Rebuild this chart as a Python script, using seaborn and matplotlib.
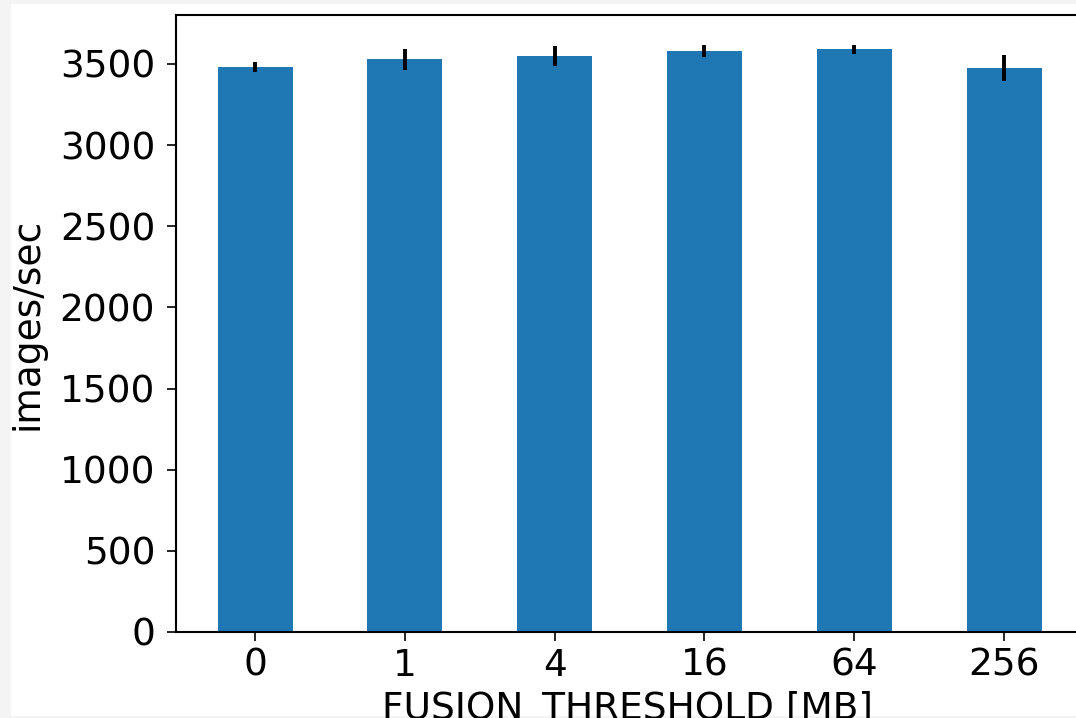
import matplotlib
matplotlib.use("Agg")
import matplotlib.pyplot as plt
import seaborn as sns
from matplotlib.patches import Rectangle

# Throughput per fusion threshold setting
thresholds = ["0", "1", "4", "16", "64", "256"]
images_per_sec = [3482, 3527, 3547, 3577, 3589, 3475]
std_dev = [30, 65, 60, 37, 30, 82]

sns.set_theme(style="ticks", rc={
    "font.family": ["DejaVu Sans"],
    "font.size": 27,
    "axes.labelsize": 27,
    "xtick.labelsize": 27,
    "ytick.labelsize": 27,
    "axes.edgecolor": "black",
    "axes.labelcolor": "black",
    "xtick.color": "black",
    "ytick.color": "black",
    "text.color": "black",
    "axes.linewidth": 1.5,
    "xtick.major.size": 6.8,
    "ytick.major.size": 6.8,
    "xtick.major.width": 1.2,
    "ytick.major.width": 1.2,
    "xtick.major.pad": 4.5,
    "ytick.major.pad": 8.0,
})

fig = plt.figure(figsize=(10.76, 7.18), dpi=100, facecolor="#f4f4f4")
# white canvas inside a thin grey frame
fig.patches.append(Rectangle((11 / 1076, 2 / 718), 1.0, (718 - 4 - 2) / 718,
                             transform=fig.transFigure, facecolor="white",
                             edgecolor="none", zorder=-10))

ax = fig.add_axes([175.7 / 1076, 86 / 718, (1079 - 175.7) / 1076, (632 - 15) / 718])
ax.set_facecolor("white")

sns.barplot(x=thresholds, y=images_per_sec, order=thresholds, color="#1f77b4",
            saturation=1, width=0.5, errorbar=None, linewidth=0, ax=ax)
ax.errorbar(range(len(thresholds)), images_per_sec, yerr=std_dev, fmt="none",
            ecolor="black", elinewidth=2.8, capsize=0, zorder=5)

ax.set_xlim(-0.53, 5.5)
ax.set_ylim(0, 3801)
ax.set_yticks(range(0, 4000, 500))
ax.set_xlabel("FUSION_THRESHOLD [MB]", labelpad=5)
ax.set_ylabel("images/sec", labelpad=10)
for side in ("top", "left", "bottom"):
    ax.spines[side].set_visible(True)
ax.spines["right"].set_visible(False)

fig.savefig("out.png", dpi=100, facecolor=fig.get_facecolor())
